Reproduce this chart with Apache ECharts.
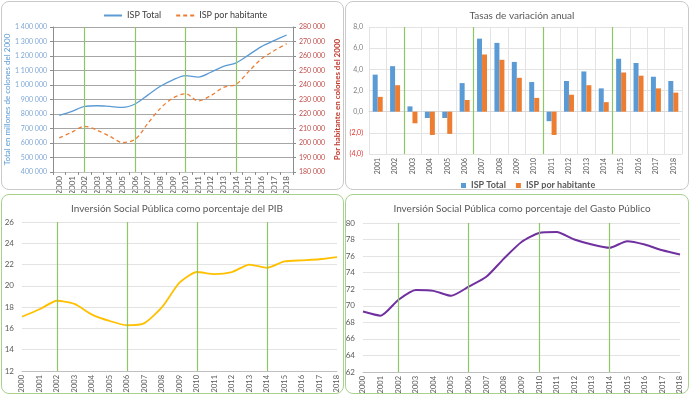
<!DOCTYPE html>
<html>
<head>
<meta charset="utf-8">
<script src="https://cdn.jsdelivr.net/npm/echarts@6/dist/echarts.min.js"></script>
<style>
  html, body { margin: 0; padding: 0; background: #fff; }
  .chart { position: absolute; }
  .frame { position: absolute; border: 1px solid #c9c9c9; border-radius: 8px; pointer-events: none; }
  .frame.green { border-color: #a9d18e; }
</style>
</head>
<body>
<div id="tl" class="chart" style="left:0;top:0;width:345px;height:193px"></div>
<div id="tr" class="chart" style="left:345px;top:0;width:346px;height:193px"></div>
<div id="bl" class="chart" style="left:0;top:193px;width:345px;height:203px"></div>
<div id="br" class="chart" style="left:345px;top:193px;width:346px;height:203px"></div>
<div class="frame" style="left:1px;top:1px;width:341px;height:187px"></div>
<div class="frame" style="left:345px;top:1px;width:342px;height:187px"></div>
<div class="frame green" style="left:1px;top:194px;width:341px;height:198px"></div>
<div class="frame green" style="left:345px;top:194px;width:342px;height:198px"></div>
<script>
// data
var years = ['2000','2001','2002','2003','2004','2005','2006','2007','2008','2009','2010','2011','2012','2013','2014','2015','2016','2017','2018'];
var rateYears = ['2001','2002','2003','2004','2005','2006','2007','2008','2009','2010','2011','2012','2013','2014','2015','2016','2017','2018'];
var markYears = ['2002','2006','2010','2014'];
var rateBreaks = [2, 6, 10, 14]; // limites entre categorias (2002|2003, 2006|2007 ...)

var ispTotal = [790000, 818000, 852000, 857000, 852000, 846000, 869000, 930000, 991000, 1036000, 1065000, 1055000, 1088000, 1128000, 1153000, 1208000, 1265000, 1306000, 1345000];
var ispPorHab = [203500, 207500, 211500, 208800, 204600, 200300, 202500, 213400, 223900, 231000, 234000, 229000, 232700, 238400, 240500, 249400, 258000, 263600, 268500];

var rateTotal = [3.5, 4.3, 0.5, -0.6, -0.6, 2.7, 6.9, 6.5, 4.7, 2.8, -0.9, 2.9, 3.8, 2.2, 5.0, 4.6, 3.3, 2.9];
var rateHab = [1.4, 2.5, -1.1, -2.2, -2.1, 1.1, 5.4, 4.9, 3.2, 1.3, -2.2, 1.6, 2.5, 0.9, 3.7, 3.4, 2.2, 1.8];

var pctPib = [17.1, 17.8, 18.6, 18.3, 17.3, 16.7, 16.3, 16.5, 18.0, 20.3, 21.3, 21.1, 21.3, 22.0, 21.7, 22.3, 22.4, 22.5, 22.7];
var pctGasto = [69.3, 68.8, 70.7, 71.9, 71.8, 71.2, 72.3, 73.5, 75.7, 77.7, 78.8, 78.9, 78.0, 77.4, 77.0, 77.8, 77.4, 76.7, 76.2];

var FONT = 'Lato';
var GREEN = '#8cc665';

function miles(v) {
    return String(v).replace(/\B(?=(\d{3})+(?!\d))/g, ' ');
}
function coma(v) {
    if (v < 0) return '{neg|(' + Math.abs(v).toFixed(1).replace('.', ',') + ')}';
    return v.toFixed(1).replace('.', ',');
}
function greenLines(list) {
    return {
        silent: true,
        symbol: 'none',
        label: { show: false },
        lineStyle: { color: GREEN, type: 'solid', width: 1.2 },
        data: list.map(function (v) { return { xAxis: v }; })
    };
}
function titleOpt(text) {
    return { text: text, left: 172, top: 6, textAlign: 'center',
             textStyle: { fontSize: 10, fontWeight: 'normal', color: '#595959', fontFamily: FONT } };
}
function yearAxis(gap, size) {
    return {
        type: 'category', data: years, boundaryGap: gap,
        axisLine: { lineStyle: { color: '#bfbfbf' } },
        axisTick: { show: gap, length: 3, lineStyle: { color: '#8c8c8c' } },
        axisLabel: { rotate: 90, fontSize: size, color: '#595959', fontFamily: FONT, margin: 4, interval: 0 }
    };
}
function pctAxis(min, max) {
    return {
        type: 'value', min: min, max: max, interval: 2,
        axisLine: { show: false }, axisTick: { show: false },
        axisLabel: { fontSize: 8, color: '#595959', fontFamily: FONT, margin: 8 },
        splitLine: { lineStyle: { color: '#e3e3e3' } }
    };
}

// ISP total y por habitante
var chartTL = echarts.init(document.getElementById('tl'));
chartTL.setOption({
    animation: false,
    textStyle: { fontFamily: FONT },
    legend: {
        left: 98, top: 6, itemWidth: 18, itemHeight: 8, itemGap: 14,
        itemStyle: { opacity: 0 },
        textStyle: { fontSize: 9, color: '#404040', fontFamily: FONT },
        data: ['ISP Total', 'ISP por habitante']
    },
    grid: { left: 53, top: 27, width: 240, height: 145, outerBoundsMode: 'none' },
    xAxis: yearAxis(true, 8),
    yAxis: [
        {
            type: 'value', min: 400000, max: 1400000, interval: 100000,
            name: 'Total en millones de colones del 2000', nameLocation: 'middle', nameGap: 42,
            nameMoveOverlap: false,
            nameTextStyle: { fontSize: 8, color: '#5b9bd5', fontFamily: FONT },
            axisLine: { show: true, lineStyle: { color: '#8c8c8c' } },
            axisTick: { show: true, length: 3, lineStyle: { color: '#8c8c8c' } },
            axisLabel: { fontSize: 7, color: '#7fa7d4', fontFamily: FONT, margin: 6, formatter: miles },
            splitLine: { lineStyle: { color: '#a6a6a6' } }
        },
        {
            type: 'value', min: 180000, max: 280000, interval: 10000, position: 'right',
            name: 'Por habitante en colones del 2000', nameLocation: 'middle', nameGap: 40, nameRotate: 90,
            nameMoveOverlap: false,
            nameTextStyle: { fontSize: 8, color: '#c0392b', fontWeight: 'bold', fontFamily: FONT },
            axisLine: { show: true, lineStyle: { color: '#8c8c8c' } },
            axisTick: { show: true, length: 3, lineStyle: { color: '#8c8c8c' } },
            axisLabel: { fontSize: 7, color: '#c0504d', fontFamily: FONT, margin: 6, formatter: miles },
            splitLine: { show: false }
        }
    ],
    series: [
        {
            name: 'ISP Total', type: 'line', yAxisIndex: 0, data: ispTotal,
            smooth: 0.3, symbol: 'none', itemStyle: { color: '#5b9bd5' },
            lineStyle: { color: '#5b9bd5', width: 1.3 },
            markLine: greenLines(markYears)
        },
        {
            name: 'ISP por habitante', type: 'line', yAxisIndex: 1, data: ispPorHab,
            smooth: 0.3, symbol: 'none', itemStyle: { color: '#ed7d31' },
            lineStyle: { color: '#ed7d31', width: 1.3, type: [4, 3] }
        }
    ]
});

// tasas de variacion
var chartTR = echarts.init(document.getElementById('tr'));
chartTR.setOption({
    animation: false,
    textStyle: { fontFamily: FONT },
    title: titleOpt('Tasas de variación anual'),
    legend: {
        left: 111, top: 176, itemWidth: 5, itemHeight: 5, itemGap: 10, icon: 'rect',
        textStyle: { fontSize: 9, fontWeight: 'bold', color: '#595959', fontFamily: FONT },
        data: ['ISP Total', 'ISP por habitante']
    },
    grid: { left: 24, top: 27, width: 313, height: 127, outerBoundsMode: 'none' },
    xAxis: [
        {
            type: 'category', data: rateYears,
            axisLine: { lineStyle: { color: '#d9d9d9' } },
            axisTick: { show: false },
            axisLabel: { rotate: 90, fontSize: 7, color: '#595959', fontFamily: FONT, margin: 4, interval: 0 },
            splitLine: { show: true, interval: 0, lineStyle: { color: '#e3e3e3' } }
        },
        { type: 'value', min: 0, max: 18, show: false }
    ],
    yAxis: {
        type: 'value', min: -4, max: 8, interval: 2,
        axisLine: { show: false }, axisTick: { show: false },
        axisLabel: { fontSize: 7, color: '#7f7f7f', fontFamily: FONT, margin: 6, formatter: coma,
                     rich: { neg: { color: '#e03030', fontSize: 7, fontFamily: FONT } } },
        splitLine: { lineStyle: { color: '#e3e3e3' } }
    },
    series: [
        {
            name: 'ISP Total', type: 'bar', xAxisIndex: 0, data: rateTotal,
            barWidth: 5, barGap: '0%', itemStyle: { color: '#5b9bd5' }
        },
        {
            name: 'ISP por habitante', type: 'bar', xAxisIndex: 0, data: rateHab,
            barWidth: 5, barGap: '0%', itemStyle: { color: '#ed7d31' }
        },
        {
            type: 'line', xAxisIndex: 1, data: [], silent: true,
            markLine: greenLines(rateBreaks)
        }
    ]
});

// ISP como % del PIB
var chartBL = echarts.init(document.getElementById('bl'));
chartBL.setOption({
    animation: false,
    textStyle: { fontFamily: FONT },
    title: titleOpt('Inversión Social Pública como porcentaje del PIB'),
    grid: { left: 22, top: 29, width: 315, height: 149, outerBoundsMode: 'none' },
    xAxis: yearAxis(false, 7.5),
    yAxis: pctAxis(12, 26),
    series: [{
        name: 'PIB', type: 'line', data: pctPib,
        smooth: 0.2, symbol: 'none', lineStyle: { color: '#ffc000', width: 1.8 },
        markLine: greenLines(markYears)
    }]
});

// ISP como % del gasto publico
var chartBR = echarts.init(document.getElementById('br'));
chartBR.setOption({
    animation: false,
    textStyle: { fontFamily: FONT },
    title: titleOpt('Inversión Social Pública como porcentaje del Gasto Público'),
    grid: { left: 18, top: 30, width: 317, height: 149, outerBoundsMode: 'none' },
    xAxis: yearAxis(false, 7.5),
    yAxis: pctAxis(62, 80),
    series: [{
        name: 'Gasto', type: 'line', data: pctGasto,
        smooth: 0.2, symbol: 'none', lineStyle: { color: '#7030a0', width: 2 },
        markLine: greenLines(markYears)
    }]
});
</script>
</body>
</html>
